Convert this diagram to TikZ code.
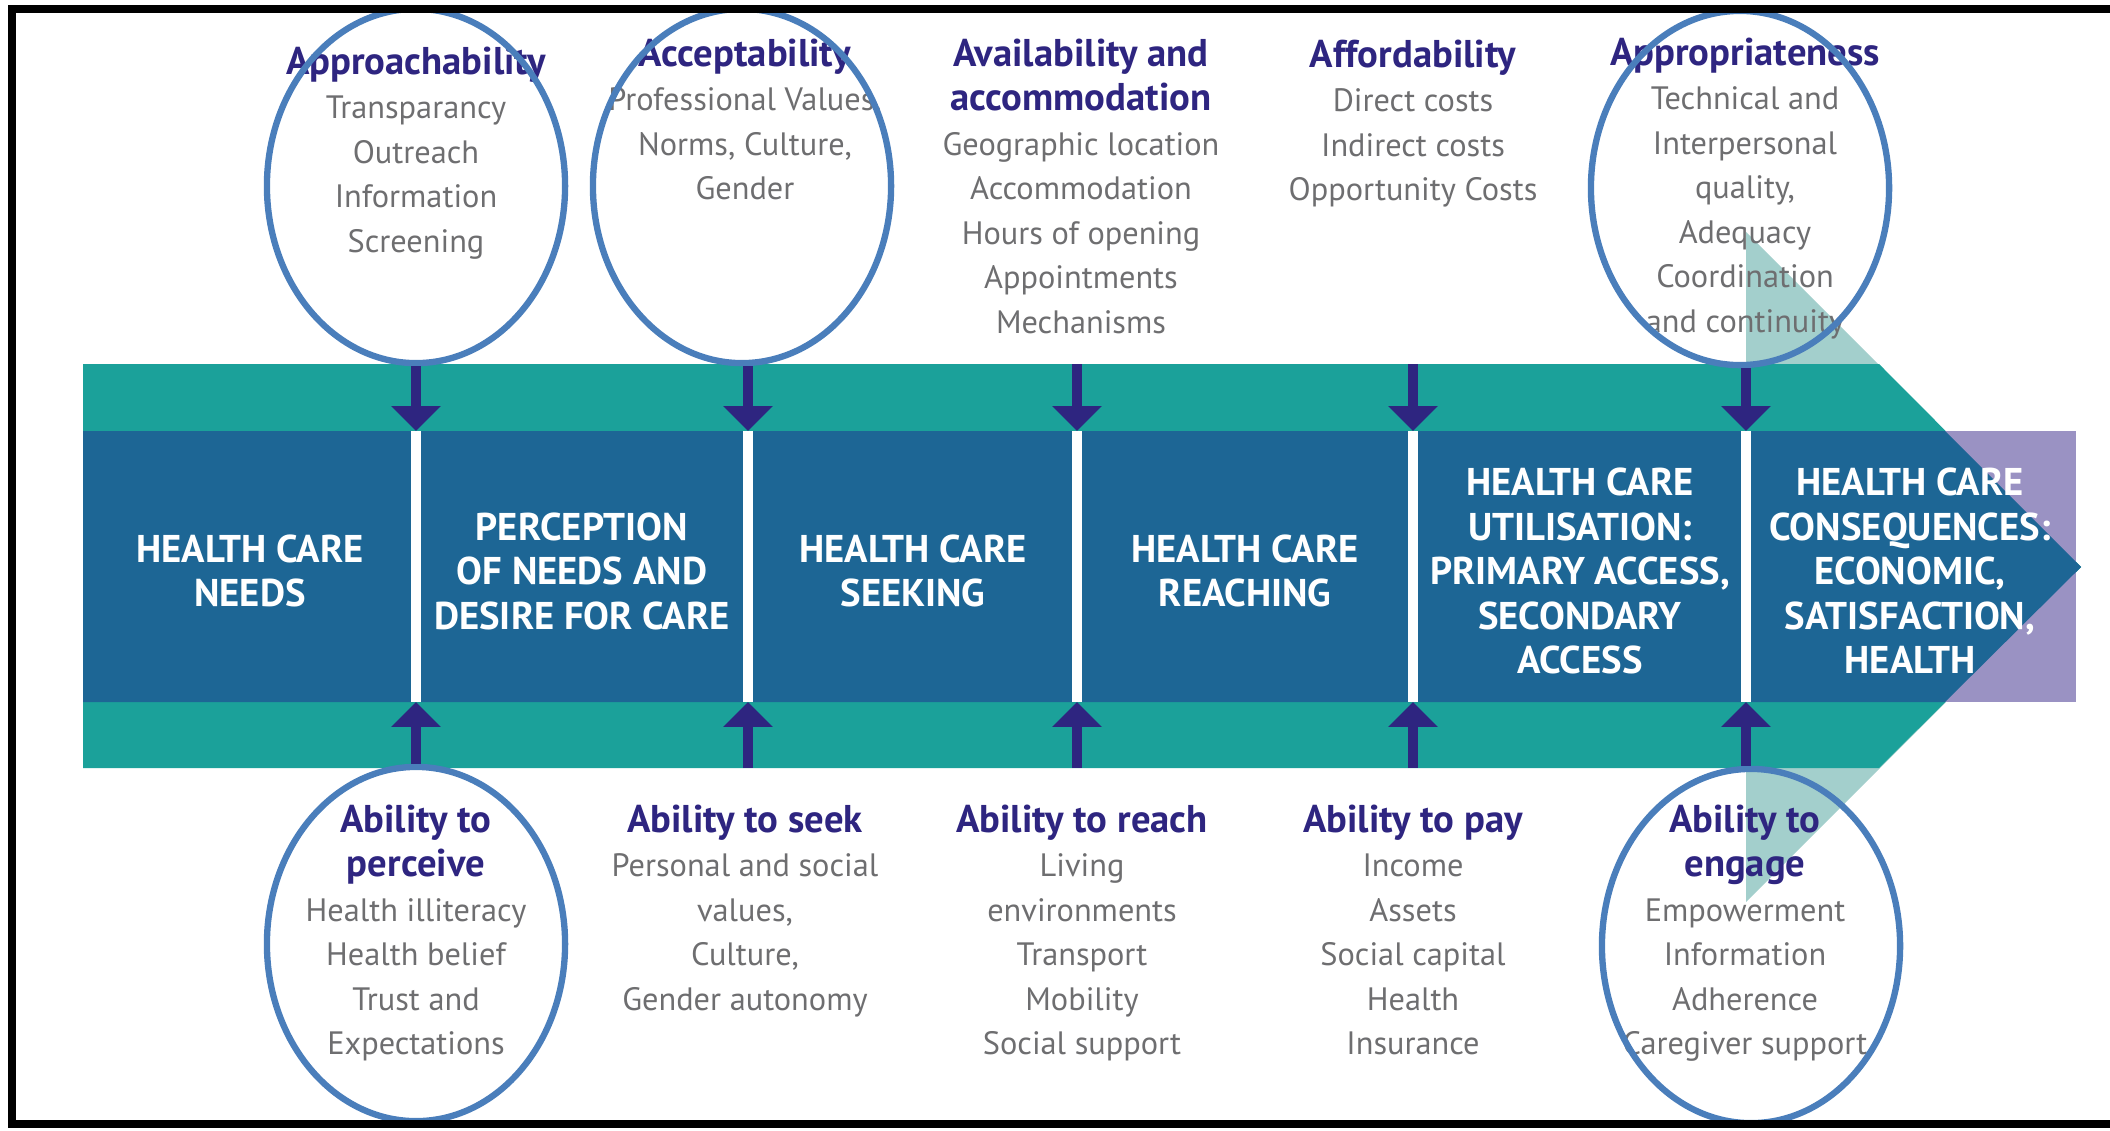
\documentclass[tikz,border=0pt]{standalone}
\usepackage{fontspec}
\setmainfont{PT Sans}
\usetikzlibrary{arrows.meta,shapes.geometric}

\definecolor{teal1}{RGB}{27,161,154}
\definecolor{teal2}{RGB}{163,207,204}
\definecolor{band}{RGB}{29,102,149}
\definecolor{lilac}{RGB}{154,146,195}
\definecolor{ink}{RGB}{46,37,128}
\definecolor{ringblue}{RGB}{74,126,187}
\definecolor{txtgray}{RGB}{110,110,112}

\newcommand{\acchead}[1]{{\fontsize{11}{12.66}\selectfont\bfseries\color{ink}#1}}

\tikzset{
  stage/.style={text=white, font=\fontsize{11}{12.66}\selectfont\bfseries, align=center, inner sep=0pt},
  factor/.style={text=txtgray, font=\fontsize{9.2}{12.66}\selectfont, align=center, inner sep=0pt, anchor=north},
  ring/.style={draw=ringblue, line width=1.8pt, ellipse, minimum width=2.98cm, minimum height=3.54cm, inner sep=0pt},
  accarrow/.style={draw=ink, line width=2.85pt, -{Triangle[length=7.1pt,width=13.7pt]}},
  divider/.style={draw=white, line width=3.1pt}
}

\begin{document}
\begin{tikzpicture}[x=0.01cm,y=-0.01cm]
\clip (0,0) rectangle (2110,1130);

\fill[teal2] (1746,232) -- (2081,567) -- (1746,902) -- cycle;
\fill[teal1] (83,364) -- (1879,364) -- (2081,567) -- (1879,768) -- (83,768) -- cycle;
\fill[lilac] (1945,431) rectangle (2076,702);
\fill[band] (83,431) -- (1945,431) -- (2081,567) -- (1945,702) -- (83,702) -- cycle;

\draw[divider] (416,431) -- (416,702);
\draw[divider] (748,431) -- (748,702);
\draw[divider] (1077,431) -- (1077,702);
\draw[divider] (1413,431) -- (1413,702);
\draw[divider] (1746,431) -- (1746,702);

\coordinate (top1) at (416,431);
\coordinate (top2) at (748,431);
\coordinate (top3) at (1077,431);
\coordinate (top4) at (1413,431);
\coordinate (top5) at (1746,431);
\coordinate (bot1) at (416,702);
\coordinate (bot2) at (748,702);
\coordinate (bot3) at (1077,702);
\coordinate (bot4) at (1413,702);
\coordinate (bot5) at (1746,702);
\coordinate (src3) at (1077,364);
\coordinate (src4) at (1413,364);
\coordinate (foot2) at (748,768);
\coordinate (foot3) at (1077,768);
\coordinate (foot4) at (1413,768);

\node[stage] (needs) at (250,571) {HEALTH CARE\\NEEDS};
\node[stage] (perception) at (582,571) {PERCEPTION\\OF NEEDS AND\\DESIRE FOR CARE};
\node[stage] (seeking) at (913,571) {HEALTH CARE\\SEEKING};
\node[stage] (reaching) at (1245,571) {HEALTH CARE\\REACHING};
\node[stage] (utilisation) at (1580,571) {HEALTH CARE\\UTILISATION:\\PRIMARY ACCESS,\\SECONDARY\\ACCESS};
\node[stage] (consequences) at (1910,571) {HEALTH CARE\\CONSEQUENCES:\\ECONOMIC,\\SATISFACTION,\\HEALTH};

\node[factor] (approach) at (416,46) {\acchead{Approachability}\\Transparancy\\Outreach\\Information\\Screening};
\node[factor] (accept) at (745,38) {\acchead{Acceptability}\\Professional Values,\\Norms, Culture,\\Gender};
\node[factor] (avail) at (1081,38) {\acchead{Availability and}\\\acchead{accommodation}\\Geographic location\\Accommodation\\Hours of opening\\Appointments\\Mechanisms};
\node[factor] (afford) at (1413,39) {\acchead{Affordability}\\Direct costs\\Indirect costs\\Opportunity Costs};
\node[factor] (appropriate) at (1745,37) {\acchead{Appropriateness}\\Technical and\\Interpersonal\\quality,\\Adequacy\\Coordination\\and continuity};

\node[factor] (perceive) at (416,804) {\acchead{Ability to}\\\acchead{perceive}\\Health illiteracy\\Health belief\\Trust and\\Expectations};
\node[factor] (seek) at (745,804) {\acchead{Ability to seek}\\Personal and social\\values,\\Culture,\\Gender autonomy};
\node[factor] (reach) at (1082,804) {\acchead{Ability to reach}\\Living\\environments\\Transport\\Mobility\\Social support};
\node[factor] (pay) at (1413,804) {\acchead{Ability to pay}\\Income\\Assets\\Social capital\\Health\\Insurance};
\node[factor] (engage) at (1745,804) {\acchead{Ability to}\\\acchead{engage}\\Empowerment\\Information\\Adherence\\Caregiver support};

\node[ring] (e1) at (416,186) {};
\node[ring] (e2) at (742,186) {};
\node[ring] (e3) at (1740,188) {};
\node[ring] (e4) at (416,944) {};
\node[ring] (e5) at (1751,946) {};

\draw[accarrow] (top1 |- e1.south) -- (top1);
\draw[accarrow] (top2 |- e2.south) -- (top2);
\draw[accarrow] (src3) -- (top3);
\draw[accarrow] (src4) -- (top4);
\draw[accarrow] (top5 |- e3.south) -- (top5);

\draw[accarrow] (bot1 |- e4.north) -- (bot1);
\draw[accarrow] (foot2) -- (bot2);
\draw[accarrow] (foot3) -- (bot3);
\draw[accarrow] (foot4) -- (bot4);
\draw[accarrow] (bot5 |- e5.north) -- (bot5);

\draw[line width=2.3pt] (12,9) rectangle (2130,1124);

\end{tikzpicture}
\end{document}
